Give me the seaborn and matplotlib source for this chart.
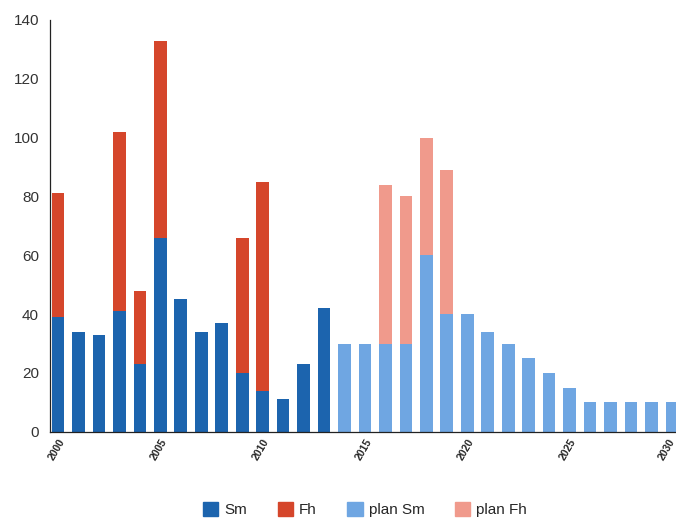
import numpy as np
import pandas as pd
import matplotlib
matplotlib.use("Agg")
import matplotlib.pyplot as plt
from matplotlib.patches import Patch
import seaborn as sns

years = list(range(2000, 2031))
# actual values 2000-2013
sm = [39, 34, 33, 41, 23, 66, 45, 34, 37, 20, 14, 11, 23, 42]
fh = [42, 0, 0, 61, 25, 67, 0, 0, 0, 46, 71, 0, 0, 0]
# planned values 2014-2030
plan_sm = [30, 30, 30, 30, 60, 40, 40, 34, 30, 25, 20, 15, 10, 10, 10, 10, 10]
plan_fh = [0, 0, 54, 50, 40, 49, 0, 0, 0, 0, 0, 0, 0, 0, 0, 0, 0]

c_sm, c_fh = "#1c64ae", "#d5462b"
c_psm, c_pfh = "#6fa6e2", "#f09a8c"

n_act = len(sm)
df = pd.DataFrame({"year": [str(y) for y in years]})
df["sm"] = sm + [np.nan] * len(plan_sm)
df["sm_fh"] = [a + b if b > 0 else np.nan for a, b in zip(sm, fh)] + [np.nan] * len(plan_sm)
df["psm"] = [np.nan] * n_act + plan_sm
df["psm_pfh"] = [np.nan] * n_act + [a + b if b > 0 else np.nan for a, b in zip(plan_sm, plan_fh)]

sns.set_style("white")
plt.rcParams["font.family"] = ["Liberation Sans", "DejaVu Sans"]

fig = plt.figure(figsize=(6.76, 5.24), dpi=100)
ax = fig.add_axes([0.074, 0.176, 0.926, 0.786])

order = df["year"].tolist()
for col, colr in [("sm_fh", c_fh), ("sm", c_sm), ("psm_pfh", c_pfh), ("psm", c_psm)]:
    sns.barplot(data=df, x="year", y=col, order=order, color=colr, saturation=1,
                width=0.62, errorbar=None, ax=ax, linewidth=0)

ax.set_ylim(0, 140)
ax.set_xlim(-0.39, 30.2)
ax.set_yticks(range(0, 141, 20))
# last tick label nudged a little left so it stays inside the figure
xt = list(range(0, 26, 5)) + [29.8]
ax.set_xticks(xt)
ax.set_xticklabels([str(y) for y in years[::5]], rotation=60, fontsize=7.5,
                   fontweight="bold", ha="right", rotation_mode="anchor")
ax.tick_params(axis="y", labelsize=11, labelcolor="#333333", length=0, pad=8)
ax.tick_params(axis="x", length=0, pad=4)
ax.set_xlabel("")
ax.set_ylabel("")
sns.despine(ax=ax, top=True, right=True)
for s in ["left", "bottom"]:
    ax.spines[s].set_color("#222222")
    ax.spines[s].set_linewidth(0.9)

handles = [Patch(color=c_sm, label="Sm"), Patch(color=c_fh, label="Fh"),
           Patch(color=c_psm, label="plan Sm"), Patch(color=c_pfh, label="plan Fh")]
fig.legend(handles=handles, loc="lower center", bbox_to_anchor=(0.54, -0.005), ncol=4,
           frameon=False, fontsize=11, handlelength=1.0, handleheight=1.0,
           handletextpad=0.4, columnspacing=2.0, borderaxespad=0.2)

fig.savefig("out.png", dpi=100)
